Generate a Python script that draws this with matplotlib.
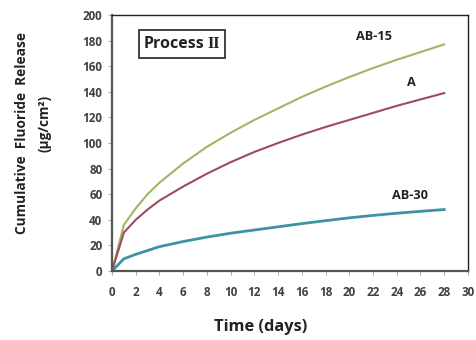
import matplotlib
matplotlib.use("Agg")
import matplotlib.pyplot as plt
from matplotlib.patches import Rectangle

days = [0, 1, 2, 3, 4, 6, 8, 10, 12, 14, 16, 18, 20, 22, 24, 26, 28]
ab15 = [0, 36, 49, 60, 69, 84, 97, 108, 118, 127, 136, 144, 151.5, 158.5, 165, 171, 177]
a_vals = [0, 30, 40, 48, 55, 66, 76, 85, 93, 100, 106.5, 112.5, 118, 123.5, 129, 134, 139]
ab30 = [0, 9.5, 13, 16, 19, 23, 26.5, 29.5, 32, 34.5, 37, 39.3, 41.5, 43.4, 45.1, 46.6, 48]

xticks = list(range(0, 31, 2))
yticks = list(range(0, 201, 20))

FONT = "Open Sans"
TICKC = "#404040"

fig = plt.figure(figsize=(4.77, 3.40), dpi=100)
ax = fig.add_axes([0.2348, 0.203, 0.981 - 0.2348, 0.956 - 0.203])

ax.plot(days, ab15, color="#9db763", lw=1.5)
ax.plot(days, a_vals, color="#9e4b5c", lw=1.5)
ax.plot(days, ab30, color="#3b93a5", lw=2.0)

ax.set_xlim(0, 30)
ax.set_ylim(0, 200)
ax.set_xticks(xticks)
ax.set_yticks(yticks)
ax.set_xticklabels([str(v) for v in xticks], fontfamily=FONT, fontweight="bold", fontsize=8.4, color=TICKC)
ax.set_yticklabels([str(v) for v in yticks], fontfamily=FONT, fontweight="bold", fontsize=8.4, color=TICKC)
ax.tick_params(axis="both", direction="out", length=3, width=0.6, color="#999999")
ax.tick_params(axis="x", pad=8)
ax.tick_params(axis="y", pad=4)

for s in ["left", "bottom"]:
    ax.spines[s].set_color("#555555")
    ax.spines[s].set_linewidth(1.6)
for s in ["top", "right"]:
    ax.spines[s].set_color("#222222")
    ax.spines[s].set_linewidth(1.0)

fig.text(0.547, 0.038, "Time (days)", ha="center", va="center",
         fontfamily=FONT, fontweight="bold", fontsize=11.8, color="#222222")

fig.text(0.046, 0.61, "Cumulative  Fluoride  Release", rotation=90, ha="center", va="center",
         fontfamily=FONT, fontweight="bold", fontsize=9.8, color="#222222")
fig.text(0.094, 0.638, "(µg/cm²)", rotation=90, ha="center", va="center",
         fontfamily=FONT, fontweight="bold", fontsize=9.8, color="#222222")

# Process II box
ax.add_patch(Rectangle((0.077, 0.83), 0.24, 0.11, transform=ax.transAxes, fill=False,
                       edgecolor="#222222", lw=1.2))
ax.text(0.09, 0.885, "Process", transform=ax.transAxes, ha="left", va="center",
        fontfamily=FONT, fontweight="bold", fontsize=11.5, color="#222222")
ax.text(0.267, 0.885, "II", transform=ax.transAxes, ha="left", va="center",
        fontfamily="Liberation Serif", fontweight="bold", fontsize=11.5, color="#222222")

ax.text(22.1, 183, "AB-15", ha="center", va="center", fontfamily=FONT, fontweight="bold", fontsize=9.2, color="#222222")
ax.text(25.2, 147, "A", ha="center", va="center", fontfamily=FONT, fontweight="bold", fontsize=9.2, color="#222222")
ax.text(25.1, 59, "AB-30", ha="center", va="center", fontfamily=FONT, fontweight="bold", fontsize=9.2, color="#222222")

fig.savefig("out.png", dpi=100)
